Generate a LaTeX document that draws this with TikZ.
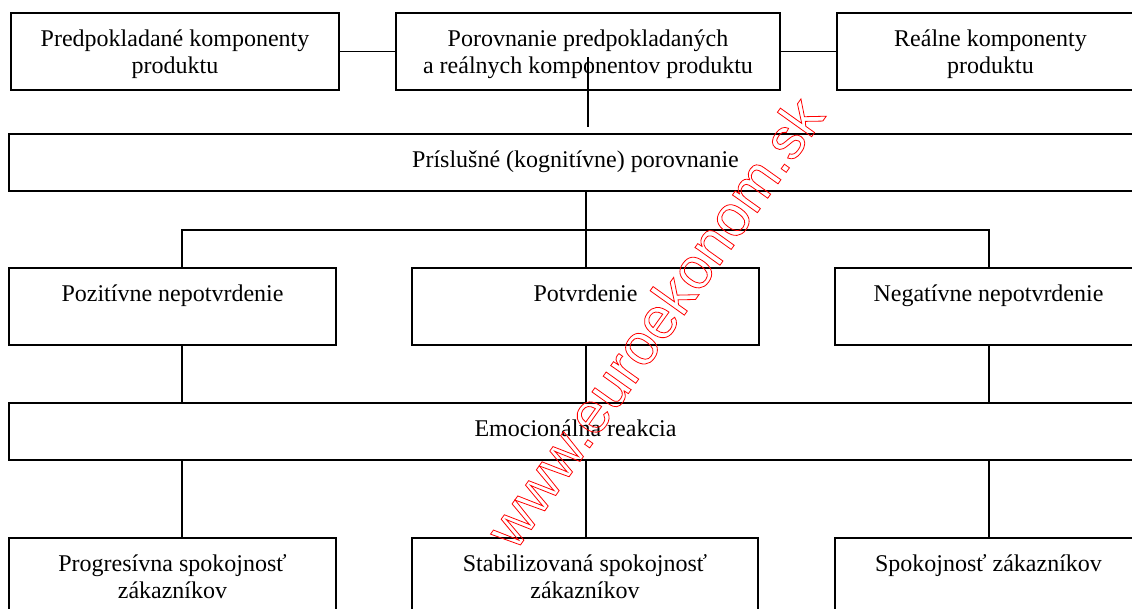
\documentclass[tikz,border=0pt]{standalone}
\usepackage{fontspec}
\setmainfont{Liberation Serif}
\newfontfamily\wmfont{Liberation Sans}
\newcommand{\bxtext}[3]{\parbox[c][#2pt][t]{#1pt}{\centering\rule{0pt}{33.5pt}#3}}
\tikzset{
  box/.style={draw, line width=1.8pt, inner sep=0pt, outer sep=0pt, anchor=north west,
    font=\fontsize{24}{27}\selectfont},
  ln/.style={line width=1.8pt}
}
\begin{document}
\begin{tikzpicture}[x=1pt, y=-1pt]
\useasboundingbox (0,0) rectangle (1132,609);
\clip (0,0) rectangle (1132,609);
% top row
\node[box] (b1) at (11,13) {\bxtext{328}{77}{Predpokladané komponenty\\produktu}};
\node[box] (b2) at (396,13) {\bxtext{384}{77}{Porovnanie predpokladaných\\a reálnych komponentov produktu}};
\node[box] (b3) at (837,13) {\bxtext{307}{77}{Reálne komponenty\\produktu}};
% comparison
\node[box] (cmp) at (9,134) {\bxtext{1133}{57}{Príslušné (kognitívne) porovnanie}};
% row 3
\node[box] (pos) at (9,268) {\bxtext{327}{77}{Pozitívne nepotvrdenie}};
\node[box] (pot) at (412,268) {\bxtext{347}{77}{Potvrdenie}};
\node[box] (neg) at (835,268) {\bxtext{307}{77}{Negatívne nepotvrdenie}};
% emotional
\node[box] (emo) at (9,403) {\bxtext{1133}{57}{Emocionálna reakcia}};
% bottom row
\node[box] (pr) at (9,538) {\bxtext{327}{80}{Progresívna spokojnosť\\zákazníkov}};
\node[box] (st) at (412,538) {\bxtext{346}{80}{Stabilizovaná spokojnosť\\zákazníkov}};
\node[box] (sp) at (835,538) {\bxtext{307}{80}{Spokojnosť zákazníkov}};
% connectors
\draw[ln] (b1.east) -- (b2.west);
\draw[ln] (b2.east) -- (b3.west);
\coordinate (ta) at (588,57);
\coordinate (tb) at (588,127);
\draw[ln] (ta) -- (tb);
\coordinate (jl) at (182,230);
\coordinate (jm) at (586,230);
\coordinate (jr) at (989,230);
\draw[ln] (jm |- cmp.south) -- (jm |- pot.north);
\draw[ln] (jl |- pos.north) -- (jl) -- (jr) -- (jr |- neg.north);
\draw[ln] (jl |- pos.south) -- (jl |- emo.north);
\draw[ln] (jm |- pot.south) -- (jm |- emo.north);
\draw[ln] (jr |- neg.south) -- (jr |- emo.north);
\draw[ln] (jl |- emo.south) -- (jl |- pr.north);
\draw[ln] (jm |- emo.south) -- (jm |- st.north);
\draw[ln] (jr |- emo.south) -- (jr |- sp.north);
% watermark
\node[rotate=54.5, text=red, inner sep=0pt] (wm) at (654,322)
  {\wmfont\fontsize{58}{58}\selectfont\special{pdf:literal direct 1 Tr 0.8 w}www.euroekonom.sk\special{pdf:literal direct 0 Tr}};
\end{tikzpicture}
\end{document}
